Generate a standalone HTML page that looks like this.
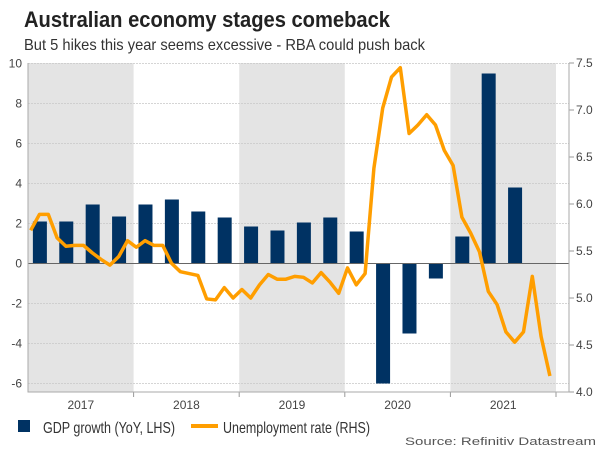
<!DOCTYPE html>
<html><head><meta charset="utf-8"><style>
body{margin:0;background:#fff;width:600px;height:450px;overflow:hidden;font-family:"Liberation Sans",sans-serif}
svg{display:block}
</style></head><body>
<svg id="chart" width="600" height="450" font-family="Liberation Sans, sans-serif">
<text x="24" y="27" font-size="22" font-weight="bold" fill="#222" textLength="366" lengthAdjust="spacingAndGlyphs">Australian economy stages comeback</text>
<text x="24" y="50" font-size="16" fill="#333" textLength="401" lengthAdjust="spacingAndGlyphs">But 5 hikes this year seems excessive - RBA could push back</text>
<g id="bands"></g><g id="grid"></g><g id="bars"></g><g id="line"></g><g id="axes"></g>
<rect x="18" y="420" width="12" height="12" fill="#003263"/>
<text x="43" y="433" font-size="16" fill="#333" textLength="132" lengthAdjust="spacingAndGlyphs">GDP growth (YoY, LHS)</text>
<line x1="191" y1="426" x2="218" y2="426" stroke="#FF9E00" stroke-width="4"/>
<text x="223" y="433" font-size="16" fill="#333" textLength="147" lengthAdjust="spacingAndGlyphs">Unemployment rate (RHS)</text>
<text x="405" y="445" font-size="11" fill="#555" textLength="191" lengthAdjust="spacingAndGlyphs">Source: Refinitiv Datastream</text>
</svg>
<script>
const years = ["2017","2018","2019","2020","2021"];
const gdp = [2.1,2.1,2.95,2.35, 2.95,3.2,2.6,2.3, 1.85,1.65,2.05,2.3, 1.6,-6.0,-3.5,-0.75, 1.35,9.5,3.8];
const unemp = [5.72,5.89,5.89,5.64,5.55,5.56,5.56,5.48,5.41,5.35,5.44,5.61,
5.54,5.61,5.56,5.56,5.37,5.28,5.26,5.24,4.99,4.98,5.11,5.00,
5.09,5.00,5.14,5.25,5.20,5.20,5.23,5.22,5.16,5.27,5.17,5.05,
5.32,5.14,5.26,6.38,7.02,7.35,7.45,6.75,6.84,6.95,6.84,6.57,
6.41,5.86,5.69,5.49,5.07,4.93,4.64,4.53,4.64,5.23,4.59,4.17];
const leftTicks = [10,8,6,4,2,0,-2,-4,-6];
const rightTicks = ["7.5","7.0","6.5","6.0","5.5","5.0","4.5","4.0"];

const X0=28, X1=569, YT=63, YB=392, yearW=105.6;
const yL = v => 263.5 - v*20;
const yR = v => YB - (v-4)*94;
const xQ = i => X0 + (i+0.45)*yearW/4;
const xM = i => 30.7 + i*8.8;
const NS="http://www.w3.org/2000/svg";
function mk(tag, attrs, parent){const e=document.createElementNS(NS,tag);for(const k in attrs)e.setAttribute(k,attrs[k]);document.getElementById(parent).appendChild(e);return e;}

years.forEach((y,i)=>{
  if(i%2===0){const r=mk('rect',{x:X0+i*yearW,y:YT,width:yearW,height:YB-YT,fill:'#e4e4e4'},'bands');
  
  }
  const t=mk('text',{x:X0+(i+0.5)*yearW,y:409,'font-size':12,fill:'#444','text-anchor':'middle'},'axes');t.textContent=y;
  
  
  const tk=mk('line',{x1:X0+(i+1)*yearW,y1:YB,x2:X0+(i+1)*yearW,y2:YB+5,stroke:'#999'},'axes');
  
  
});
leftTicks.forEach(v=>{
  if(v!==0){const g=mk('line',{x1:X0,x2:X1,y1:yL(v),y2:yL(v),stroke:'#c8c8c8','stroke-dasharray':'2,1','stroke-width':0.8},'grid');
  
  }
  const t=mk('text',{x:22,y:yL(v)+4,'font-size':12,fill:'#444','text-anchor':'end'},'axes');t.textContent=v;
  
  
});
rightTicks.forEach(v=>{
  const t=mk('text',{x:576,y:yR(+v)+4,'font-size':12,fill:'#444'},'axes');t.textContent=v;
  
  
  const tk=mk('line',{x1:X1,x2:X1+5,y1:yR(+v),y2:yR(+v),stroke:'#999'},'axes');
  
  
});
gdp.forEach((v,i)=>{
  const r=mk('rect',{x:xQ(i)-7,y:Math.min(yL(v),yL(0)),width:14,height:Math.abs(yL(v)-yL(0)),fill:'#003263'},'bars');
  
  
});
const z=mk('line',{x1:X0,x2:X1,y1:yL(0),y2:yL(0),stroke:'#666','stroke-width':1},'bars');


const p=mk('polyline',{points:unemp.map((v,i)=>xM(i)+','+yR(v)).join(' '),fill:'none',stroke:'#FF9E00','stroke-width':3.5,'stroke-linejoin':'round'},'line');


const fr=mk('path',{d:`M${X0},${YT}V${YB}H${X1}V${YT}`,fill:'none',stroke:'#aaa'},'axes');


</script>
</body></html>
